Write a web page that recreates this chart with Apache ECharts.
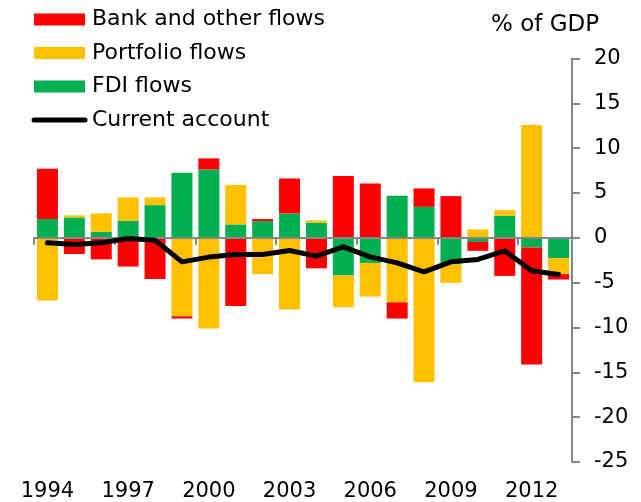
<!DOCTYPE html>
<html>
<head>
<meta charset="utf-8">
<script src="https://cdn.jsdelivr.net/npm/echarts@6/dist/echarts.min.js"></script>
<style>
  html, body { margin: 0; padding: 0; background: #fff; }
  #main { width: 641px; height: 502px; }
</style>
</head>
<body>
<div id="main"></div>
<script>
var years = ['1994', '1995', '1996', '1997', '1998', '1999', '2000', '2001', '2002', '2003',
  '2004', '2005', '2006', '2007', '2008', '2009', '2010', '2011', '2012', '2013'];

// % of GDP
var fdiFlows = [2.1, 2.27, 0.67, 1.9, 3.65, 7.25, 7.63, 1.5, 1.86, 2.72,
  1.68, -4.2, -2.8, 4.69, 3.46, -2.97, -0.45, 2.46, -1.07, -2.27];
var portfolioFlows = [-7.0, 0.23, 2.05, 2.6, 0.85, -8.75, -10.1, 4.4, -4.05, -8.0,
  0.26, -3.55, -3.75, -7.2, -16.1, -2.05, 0.94, 0.63, 12.58, -1.78];
var bankFlows = [5.6, -1.8, -2.4, -3.2, -4.6, -0.25, 1.23, -7.6, 0.23, 3.9,
  -3.4, 6.9, 6.07, -1.8, 2.05, 4.65, -1.0, -4.24, -13.06, -0.6];
var currentAccount = [-0.56, -0.74, -0.56, -0.07, -0.26, -2.68, -2.15, -1.86, -1.86, -1.41,
  -2.04, -1.0, -2.12, -2.79, -3.79, -2.68, -2.41, -1.45, -3.68, -4.09];

var FONT = 'DejaVu Sans';
var AXIS_GREY = '#868686';

var myChart = echarts.init(document.getElementById('main'));

var option = {
  animation: false,
  title: {
    text: '% of GDP',
    left: 491,
    top: 14,
    padding: 0,
    textStyle: { fontFamily: FONT, fontSize: 23, fontWeight: 'normal', color: '#000' }
  },
  legend: {
    orient: 'vertical',
    left: 31.5,
    top: 8.5,
    padding: 0,
    itemWidth: 51,
    itemHeight: 12,
    itemGap: 11.5,
    textStyle: { fontFamily: FONT, fontSize: 22, color: '#000', lineHeight: 22, padding: [0, 0, 0, 2] },
    data: [
      { name: 'Bank and other flows', icon: 'rect' },
      { name: 'Portfolio flows', icon: 'rect' },
      { name: 'FDI flows', icon: 'rect' },
      {
        name: 'Current account',
        itemStyle: { color: 'rgba(0,0,0,0)', borderWidth: 0 },
        lineStyle: { color: '#000', width: 5, cap: 'round' }
      }
    ]
  },
  grid: {
    left: 34,
    right: 69,
    top: 58.5,
    bottom: 40,
    outerBoundsMode: 'none'
  },
  xAxis: [
    {
      type: 'category',
      position: 'bottom',
      data: years,
      axisLine: { show: false, onZero: false },
      axisTick: { show: false },
      axisLabel: {
        interval: 2,
        margin: 19,
        fontFamily: FONT,
        fontSize: 21,
        lineHeight: 21,
        color: '#000'
      }
    },
    {
      // zero line with ticks, drawn over the bars
      type: 'category',
      position: 'bottom',
      z: 3,
      data: years,
      axisLine: { show: true, onZero: true, onZeroAxisIndex: 0, lineStyle: { color: AXIS_GREY, width: 2 } },
      axisTick: { show: true, interval: 2, length: 7, lineStyle: { color: AXIS_GREY, width: 2 } },
      axisLabel: { show: false }
    }
  ],
  yAxis: {
    type: 'value',
    position: 'right',
    min: -25,
    max: 20,
    interval: 5,
    splitLine: { show: false },
    axisLine: { show: true, onZero: false, lineStyle: { color: AXIS_GREY, width: 2 } },
    axisTick: { show: true, length: 8, lineStyle: { color: AXIS_GREY, width: 2 } },
    axisLabel: { margin: 22, fontFamily: FONT, fontSize: 21, color: '#000' }
  },
  series: [
    {
      name: 'FDI flows',
      type: 'bar',
      stack: 'flows',
      barWidth: 21,
      itemStyle: { color: '#00B050' },
      data: fdiFlows
    },
    {
      name: 'Portfolio flows',
      type: 'bar',
      stack: 'flows',
      barWidth: 21,
      itemStyle: { color: '#FFC000' },
      data: portfolioFlows
    },
    {
      name: 'Bank and other flows',
      type: 'bar',
      stack: 'flows',
      barWidth: 21,
      itemStyle: { color: '#FF0000' },
      data: bankFlows
    },
    {
      name: 'Current account',
      type: 'line',
      symbol: 'none',
      z: 5,
      itemStyle: { color: '#000' },
      lineStyle: { color: '#000', width: 5, cap: 'round', join: 'round' },
      data: currentAccount
    }
  ]
};

myChart.setOption(option);
</script>
</body>
</html>
